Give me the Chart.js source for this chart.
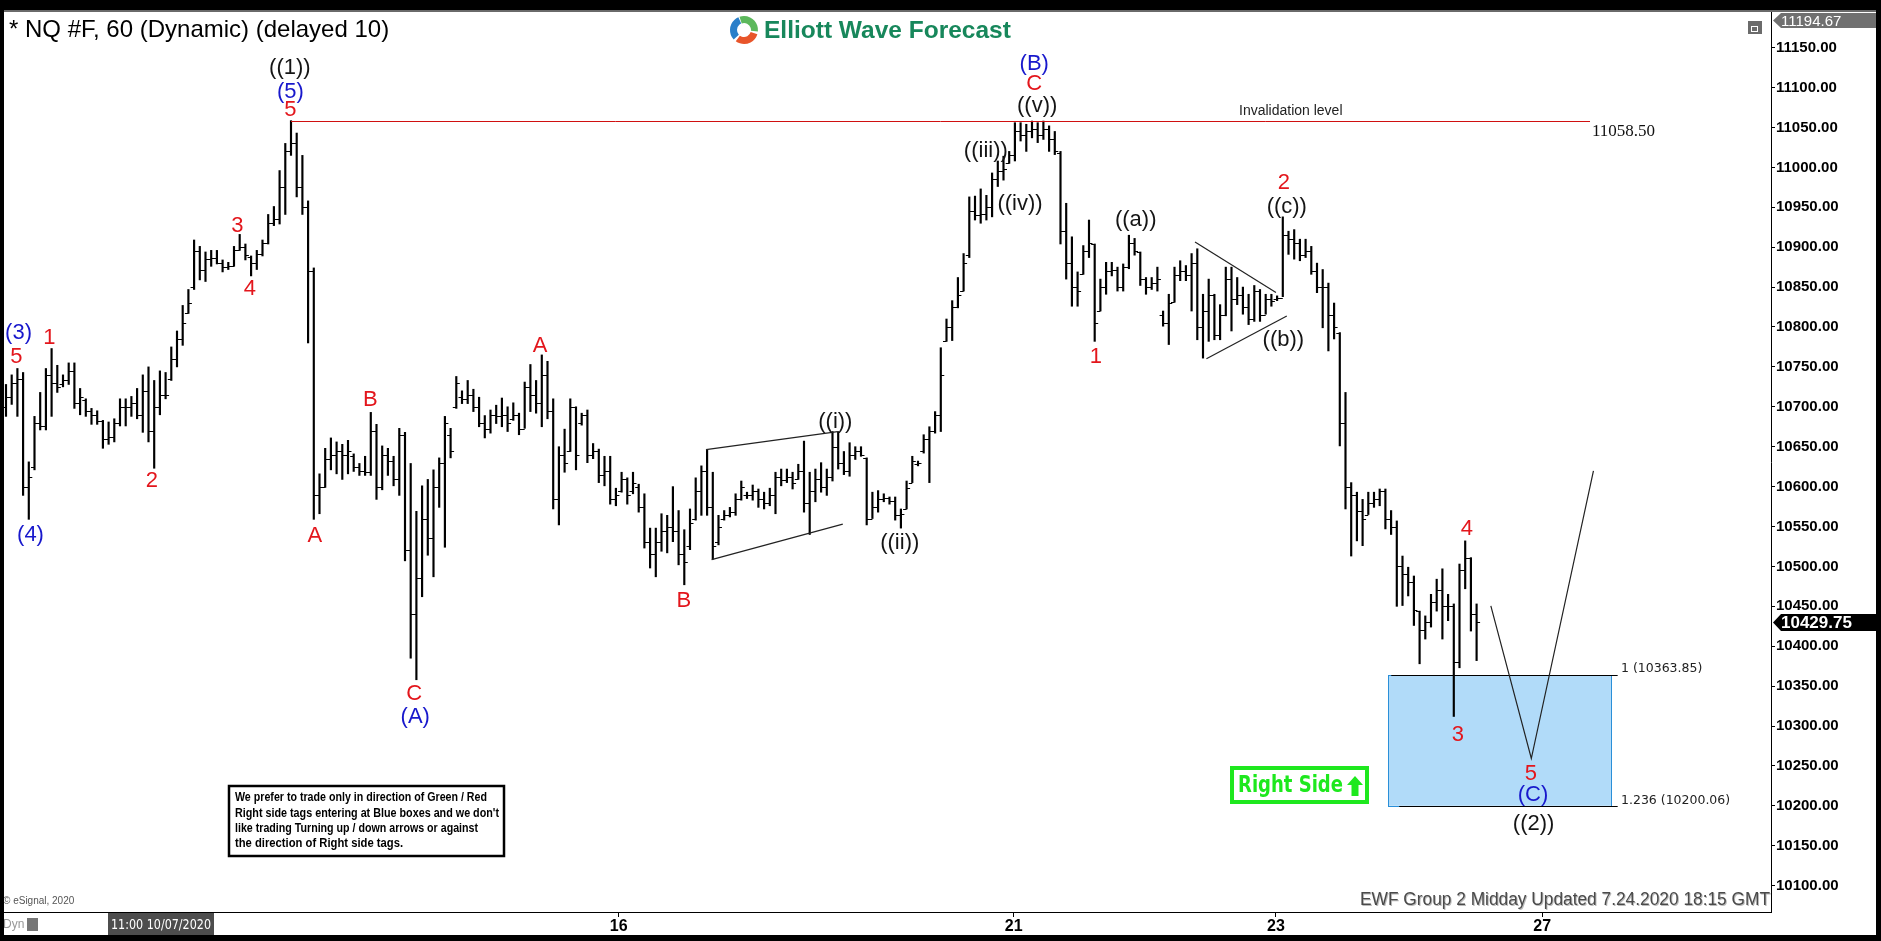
<!DOCTYPE html>
<html>
<head>
<meta charset="utf-8">
<script src="https://cdn.jsdelivr.net/npm/chart.js@4.4.1/dist/chart.umd.min.js"></script>
<style>
  html, body { margin: 0; width: 1881px; height: 941px; background: #000; overflow: hidden; }
  #topline { position: absolute; left: 4px; top: 10px; width: 1872px; height: 2px; background: #6a6a6a; }
  #panel { position: absolute; left: 4px; top: 12px; width: 1872px; height: 923px; background: #fff; }
  canvas { display: block; }
</style>
</head>
<body>
<div id="topline"></div>
<div id="panel"><canvas id="chart" width="1872" height="923"></canvas></div>
<script>
// NQ #F hourly bars, 10-24 July 2020
const opens = [
  10700,10712,10730,10735,10600,10625,10680,10676,10740,10730,
  10728,10733,10745,10705,10708,10695,10690,10682,10660,10662,
  10680,10700,10700,10705,10690,10720,10670,10700,10715,10735,
  10760,10785,10817,10850,10895,10872,10885,10887,10880,10875,
  10876,10896,10900,10888,10880,10892,10905,10930,10935,10975,
  11020,11030,10975,10950,10870,10590,10600,10635,10640,10645,
  10640,10638,10625,10620,10618,10670,10600,10640,10632,10610,
  10665,10520,10440,10485,10560,10535,10600,10630,10665,10700,
  10712,10710,10715,10700,10680,10672,10690,10688,10690,10685,
  10690,10672,10725,10715,10705,10740,10695,10585,10640,10645,
  10700,10680,10690,10640,10645,10615,10620,10585,10595,10610,
  10595,10600,10575,10530,10515,10530,10545,10550,10545,10515,
  10525,10560,10595,10620,10575,10530,10560,10565,10568,10585,
  10590,10590,10595,10585,10580,10590,10612,10608,10612,10610,
  10620,10580,10595,10610,10600,10612,10650,10630,10620,10640,
  10645,10636,10560,10575,10585,10586,10582,10565,10572,10605,
  10628,10645,10660,10670,10690,10782,10800,10825,10845,10890,
  10945,10940,10942,10950,10985,10995,11005,11015,11045,11040,
  11045,11048,11040,11048,11035,11018,10920,10880,10850,10866,
  10895,10904,10820,10850,10870,10872,10850,10875,10905,10894,
  10860,10850,10855,10815,10805,10831,10865,10870,10865,10880,
  10800,10820,10840,10790,10815,10860,10835,10840,10825,10810,
  10845,10815,10835,10835,10836,10915,10910,10905,10890,10895,
  10870,10850,10850,10815,10793,10680,10600,10590,10570,10565,
  10580,10585,10595,10560,10550,10500,10490,10480,10444,10420,
  10430,10455,10470,10450,10450,10380,10495,10510,10440
];
const highs = [
  10728,10740,10748,10743,10631,10688,10718,10748,10773,10752,
  10740,10755,10755,10723,10710,10698,10695,10683,10681,10685,
  10710,10710,10713,10723,10740,10750,10733,10745,10743,10775,
  10795,10827,10847,10909,10901,10894,10896,10896,10884,10881,
  10901,10916,10904,10889,10896,10909,10941,10951,10996,11030,
  11058.5,11043,11015,10958,10874,10616,10648,10661,10656,10653,
  10658,10641,10629,10638,10693,10678,10651,10648,10638,10673,
  10668,10629,10569,10601,10609,10621,10636,10688,10673,10738,
  10720,10733,10722,10712,10689,10696,10702,10711,10700,10705,
  10692,10731,10753,10733,10765,10757,10710,10650,10672,10710,
  10700,10692,10696,10654,10647,10638,10638,10598,10618,10611,
  10618,10603,10591,10548,10548,10566,10564,10600,10570,10546,
  10572,10611,10626,10646,10618,10564,10570,10574,10591,10607,
  10593,10602,10597,10593,10598,10618,10622,10622,10618,10628,
  10657,10618,10622,10630,10622,10669,10669,10644,10655,10650,
  10650,10636,10593,10595,10591,10587,10587,10572,10607,10638,
  10632,10665,10675,10694,10774,10810,10833,10862,10892,10963,
  10964,10973,10965,10993,11008,11014,11020,11056,11056,11054,
  11058,11056,11058,11052,11045,11020,10955,10913,10869,10902,
  10934,10904,10860,10881,10881,10875,10879,10915,10911,10894,
  10862,10862,10875,10820,10841,10875,10883,10877,10892,10898,
  10841,10860,10841,10828,10875,10875,10862,10850,10841,10852,
  10847,10841,10841,10839,10938,10920,10922,10910,10910,10901,
  10880,10872,10855,10830,10793,10718,10605,10593,10584,10593,
  10593,10597,10597,10570,10557,10513,10499,10488,10444,10438,
  10465,10484,10497,10465,10453,10503,10532,10511,10453
];
const lows = [
  10688,10703,10688,10589,10559,10621,10671,10671,10688,10718,
  10725,10728,10698,10690,10688,10678,10678,10648,10653,10656,
  10676,10676,10688,10685,10668,10656,10623,10690,10710,10733,
  10750,10777,10817,10847,10859,10857,10876,10879,10869,10872,
  10876,10896,10884,10864,10872,10889,10904,10927,10929,10941,
  11015,10963,10941,10780,10559,10566,10599,10621,10616,10609,
  10616,10619,10614,10614,10614,10584,10596,10614,10601,10589,
  10507,10385,10358,10462,10514,10487,10574,10524,10636,10698,
  10704,10704,10694,10675,10661,10667,10679,10675,10669,10683,
  10665,10673,10694,10692,10675,10685,10572,10552,10618,10644,
  10621,10677,10630,10635,10605,10601,10578,10576,10593,10578,
  10591,10568,10523,10498,10487,10519,10517,10531,10502,10477,
  10521,10558,10564,10564,10509,10527,10558,10562,10564,10583,
  10585,10583,10574,10572,10576,10566,10601,10605,10597,10609,
  10568,10540,10581,10593,10589,10607,10622,10615,10613,10634,
  10638,10552,10560,10568,10581,10578,10558,10548,10572,10605,
  10626,10642,10605,10667,10669,10782,10783,10824,10845,10887,
  10934,10930,10934,10938,10976,10984,11005,11008,11033,11020,
  11037,11031,11035,11020,11016,10904,10860,10826,10826,10866,
  10887,10782,10820,10841,10864,10845,10845,10873,10890,10852,
  10841,10847,10845,10801,10778,10831,10858,10858,10820,10784,
  10761,10782,10784,10784,10814,10795,10828,10816,10803,10807,
  10807,10816,10826,10833,10838,10891,10885,10883,10887,10866,
  10843,10799,10770,10785,10651,10572,10513,10532,10526,10565,
  10574,10576,10547,10540,10450,10451,10463,10426,10378,10409,
  10424,10444,10409,10432,10312,10373,10472,10419,10382
];
const closes = [
  10712,10730,10735,10600,10612,10680,10676,10740,10730,10725,
  10733,10745,10705,10712,10695,10690,10682,10660,10662,10680,
  10700,10700,10705,10690,10720,10670,10700,10715,10715,10760,
  10785,10805,10830,10895,10872,10885,10887,10880,10875,10876,
  10896,10900,10890,10880,10892,10905,10930,10935,10975,11020,
  11030,10975,10950,10870,10590,10600,10635,10640,10645,10640,
  10645,10625,10620,10618,10670,10600,10640,10632,10610,10665,
  10520,10440,10485,10560,10535,10600,10630,10680,10645,10730,
  10710,10715,10700,10680,10672,10690,10688,10690,10680,10690,
  10672,10725,10715,10705,10740,10695,10585,10640,10630,10700,
  10640,10690,10640,10645,10615,10620,10585,10590,10610,10590,
  10605,10575,10530,10515,10530,10545,10550,10545,10515,10505,
  10555,10595,10620,10575,10525,10550,10565,10568,10585,10600,
  10590,10595,10585,10580,10590,10612,10608,10612,10605,10620,
  10580,10595,10610,10600,10612,10650,10630,10620,10640,10645,
  10640,10560,10575,10585,10586,10582,10565,10566,10598,10632,
  10630,10660,10670,10690,10740,10800,10825,10840,10880,10945,
  10940,10942,10950,10985,10995,10998,11015,11045,11040,11045,
  11048,11040,11048,11035,11020,10920,10880,10850,10845,10895,
  10905,10805,10850,10870,10872,10850,10875,10905,10895,10860,
  10850,10855,10860,10805,10830,10865,10870,10865,10880,10800,
  10820,10840,10790,10815,10860,10835,10840,10825,10810,10845,
  10815,10835,10832,10836,10915,10910,10905,10890,10895,10870,
  10850,10850,10815,10800,10680,10600,10590,10570,10560,10580,
  10585,10595,10560,10550,10500,10490,10480,10445,10420,10430,
  10455,10470,10450,10450,10380,10495,10510,10440,10429.75
];

// bar slots on the time axis (one per hourly bar)
const barNumbers = closes.map((_, i) => i + 1);

// time axis: bar slot of each date tick and its label
const dayTickSlots = [34, 108.5, 177.8, 223.8, 270.5];
const dayTickLabels = ['', '16', '21', '23', '27'];
const cursorTimeLabel = '11:00 10/07/2020';

// price axis
const priceTicks = [10100, 10150, 10200, 10250, 10300, 10350, 10400, 10450, 10500, 10550, 10600,
  10650, 10700, 10750, 10800, 10850, 10900, 10950, 11000, 11050, 11100, 11150];
const priceMin = 10067;
const priceMax = 11194.67;
const lastPrice = 10429.75;

// levels
const invalidationLevel = 11058.5;
const blueBoxTop = 10363.85;
const blueBoxBottom = 10200.06;

// wave labels: text, degree, bar slot, price
const waveLabels = [
  ['(3)', 'blue', 3.2, 10792], ['5', 'red', 2.8, 10763], ['1', 'red', 8.6, 10786],
  ['(4)', 'blue', 5.3, 10540], ['2', 'red', 26.6, 10607], ['3', 'red', 41.6, 10926],
  ['4', 'red', 43.8, 10848], ['((1))', 'black', 50.8, 11124], ['(5)', 'blue', 50.9, 11095],
  ['5', 'red', 50.9, 11072], ['A', 'red', 55.2, 10538], ['B', 'red', 64.9, 10709],
  ['C', 'red', 72.6, 10340], ['(A)', 'blue', 72.8, 10312], ['A', 'red', 94.7, 10776],
  ['B', 'red', 119.9, 10457], ['((i))', 'black', 146.5, 10681], ['((ii))', 'black', 157.8, 10529],
  ['(B)', 'blue', 181.4, 11129], ['C', 'red', 181.4, 11104], ['((v))', 'black', 181.9, 11077],
  ['((iii))', 'black', 172.9, 11021], ['((iv))', 'black', 178.9, 10954], ['((a))', 'black', 199.2, 10934],
  ['1', 'red', 192.2, 10762], ['2', 'red', 225.2, 10981], ['((c))', 'black', 225.7, 10950],
  ['((b))', 'black', 225.1, 10784], ['4', 'red', 257.3, 10547], ['3', 'red', 255.7, 10289],
  ['5', 'red', 268.5, 10240], ['(C)', 'blue', 268.9, 10214], ['((2))', 'black', 269.0, 10177]
];

// trend lines as [slot, price, slot, price]
const trendLines = [
  [123.8, 10646.3, 146.9, 10668.9],   // wedge top
  [124.8, 10508.6, 147.8, 10553.0],   // wedge bottom
  [209.6, 10906.4, 223.8, 10843.2],   // triangle top
  [211.6, 10760.2, 225.7, 10813.7]    // triangle bottom
];
// projected path (slot, price)
const projectionSlots = [261.5, 268.6, 279.5];
const projectionPrices = [10450.6, 10259.3, 10619.6];

const COLORS = { red: '#e3161c', blue: '#1818cc', black: '#151515' };
const OFF_X = 4, OFF_Y = 12; // panel offset inside the page

const overlay = {
    id: 'overlay',
    beforeDatasetsDraw(chart) {
        const { ctx, scales: { x, y } } = chart;
        // blue target box
        const x0 = x.getPixelForValue(243.5), x1 = x.getPixelForValue(282.7);
        const yt = y.getPixelForValue(blueBoxTop), yb = y.getPixelForValue(blueBoxBottom);
        ctx.save();
        ctx.fillStyle = '#b1dbf9';
        ctx.fillRect(x0, yt, x1 - x0, yb - yt);
        ctx.strokeStyle = '#2a8fd8';
        ctx.lineWidth = 1;
        ctx.strokeRect(Math.round(x0) + 0.5, Math.round(yt) + 0.5, Math.round(x1 - x0), Math.round(yb - yt));
        ctx.strokeStyle = '#000';
        ctx.beginPath();
        ctx.moveTo(x0 + 3, Math.round(yt) + 0.5); ctx.lineTo(x1 + 6, Math.round(yt) + 0.5);
        ctx.moveTo(x0 + 11, Math.round(yb) + 0.5); ctx.lineTo(x1 + 6, Math.round(yb) + 0.5);
        ctx.stroke();
        ctx.restore();
    },
    afterDatasetsDraw(chart) {
        const { ctx, scales: { x, y } } = chart;
        ctx.save();
        // open / close ticks
        ctx.strokeStyle = '#000';
        ctx.lineWidth = 1;
        ctx.beginPath();
        barNumbers.forEach((n, i) => {
            const px = x.getPixelForValue(n);
            const yo = Math.round(y.getPixelForValue(opens[i])) + 0.5;
            const yc = Math.round(y.getPixelForValue(closes[i])) + 0.5;
            ctx.moveTo(px - 3.5, yo); ctx.lineTo(px, yo);
            ctx.moveTo(px, yc); ctx.lineTo(px + 3.5, yc);
        });
        ctx.stroke();

        // invalidation line
        const yInv = Math.round(y.getPixelForValue(invalidationLevel)) + 0.5;
        ctx.strokeStyle = '#d01010';
        ctx.beginPath();
        ctx.moveTo(x.getPixelForValue(51), yInv);
        ctx.lineTo(x.getPixelForValue(278.9), yInv);
        ctx.stroke();

        // wedge / triangle
        ctx.strokeStyle = '#222';
        ctx.lineWidth = 1.2;
        trendLines.forEach(([s0, p0, s1, p1]) => {
            ctx.beginPath();
            ctx.moveTo(x.getPixelForValue(s0), y.getPixelForValue(p0));
            ctx.lineTo(x.getPixelForValue(s1), y.getPixelForValue(p1));
            ctx.stroke();
        });
        // projection
        ctx.beginPath();
        projectionSlots.forEach((s, i) => {
            const px = x.getPixelForValue(s), py = y.getPixelForValue(projectionPrices[i]);
            if (i === 0) ctx.moveTo(px, py); else ctx.lineTo(px, py);
        });
        ctx.stroke();

        // wave labels
        ctx.font = '22px Arial, "Liberation Sans", sans-serif';
        ctx.textAlign = 'center';
        ctx.textBaseline = 'middle';
        waveLabels.forEach(([t, deg, s, p]) => {
            ctx.fillStyle = COLORS[deg];
            ctx.fillText(t, x.getPixelForValue(s), y.getPixelForValue(p));
        });
        ctx.restore();
    },
    afterDraw(chart) {
        const { ctx, chartArea, scales: { y } } = chart;
        const P = (fx, fy) => [fx - OFF_X, fy - OFF_Y];
        ctx.save();
        ctx.textBaseline = 'middle';

        // title
        ctx.fillStyle = '#000';
        ctx.font = '24px Arial, "Liberation Sans", sans-serif';
        ctx.textAlign = 'left';
        ctx.fillText('* NQ #F, 60 (Dynamic) (delayed 10)', ...P(9, 30), 388);

        // logo
        const [lx, ly] = P(744, 30);
        const arcs = [['#5cb85c', -1.9, 0.1], ['#e8552a', 0.3, 2.2], ['#2a7fc9', 2.4, 4.3]];
        ctx.lineWidth = 7;
        arcs.forEach(([c, a0, a1]) => {
            ctx.strokeStyle = c;
            ctx.beginPath(); ctx.arc(lx, ly, 10.5, a0, a1); ctx.stroke();
        });
        ctx.fillStyle = '#17875b';
        ctx.font = 'bold 24.5px Arial, "Liberation Sans", sans-serif';
        ctx.fillText('Elliott Wave Forecast', ...P(764, 31), 248);

        // small window icon
        ctx.fillStyle = '#6b6b6b';
        ctx.fillRect(...P(1748, 21), 14, 13);
        ctx.strokeStyle = '#fff'; ctx.lineWidth = 1;
        ctx.strokeRect(...P(1751.5, 26.5), 6, 5);

        // invalidation text
        ctx.fillStyle = '#222';
        ctx.font = '14px Arial, "Liberation Sans", sans-serif';
        ctx.fillText('Invalidation level', ...P(1239, 111));
        ctx.fillStyle = '#111';
        ctx.font = '17px "Liberation Serif", "Times New Roman", serif';
        ctx.fillText('11058.50', ...P(1592, 132));

        // fib labels
        ctx.font = '12.5px "DejaVu Sans", Tahoma, sans-serif';
        ctx.fillStyle = '#222';
        ctx.fillText('1 (10363.85)', ...P(1621, 669));
        ctx.fillText('1.236 (10200.06)', ...P(1621, 801));

        // Right Side tag
        ctx.strokeStyle = '#1ee81e';
        ctx.lineWidth = 4;
        ctx.strokeRect(...P(1232, 768), 135, 34);
        ctx.fillStyle = '#1ee81e';
        ctx.font = 'bold 23px "Liberation Sans Narrow", "DejaVu Sans Condensed", Arial, sans-serif';
        ctx.fillText('Right Side', ...P(1238, 786), 105);
        const [ax, ay] = P(1355, 786);
        ctx.beginPath();
        ctx.moveTo(ax, ay - 10); ctx.lineTo(ax + 8, ay - 1); ctx.lineTo(ax + 3.5, ay - 1);
        ctx.lineTo(ax + 3.5, ay + 10); ctx.lineTo(ax - 3.5, ay + 10); ctx.lineTo(ax - 3.5, ay - 1);
        ctx.lineTo(ax - 8, ay - 1); ctx.closePath(); ctx.fill();

        // note box
        ctx.fillStyle = '#fff';
        ctx.fillRect(...P(229, 786), 275, 70);
        ctx.strokeStyle = '#000'; ctx.lineWidth = 2.5;
        ctx.strokeRect(...P(229, 786), 275, 70);
        ctx.fillStyle = '#000';
        ctx.font = 'bold 12px Arial, "Liberation Sans", sans-serif';
        const note = ['We prefer to trade only in direction of Green / Red',
            "Right side tags entering at Blue boxes and we don't",
            'like trading Turning up / down arrows or against',
            'the direction of Right side tags.'];
        const noteW = [252, 264, 243, 168];
        note.forEach((t, i) => ctx.fillText(t, ...P(235, 798 + i * 15.3), noteW[i]));

        // footer texts
        ctx.fillStyle = '#555';
        ctx.font = '10px Arial, "Liberation Sans", sans-serif';
        ctx.fillText('\u00a9 eSignal, 2020', ...P(3, 901));
        ctx.textAlign = 'right';
        ctx.font = '18px Arial, "Liberation Sans", sans-serif';
        ctx.fillStyle = '#bbb';
        ctx.fillText('EWF Group 2 Midday Updated 7.24.2020 18:15 GMT', ...P(1771, 901), 410);
        ctx.fillStyle = '#4a4a4a';
        ctx.fillText('EWF Group 2 Midday Updated 7.24.2020 18:15 GMT', ...P(1770, 900), 410);

        // bottom-left status
        ctx.textAlign = 'left';
        ctx.fillStyle = '#999';
        ctx.font = '12px Arial, "Liberation Sans", sans-serif';
        ctx.fillText('Dyn', ...P(3, 925));
        ctx.fillStyle = '#777';
        ctx.fillRect(...P(27, 918), 11, 13);

        // cursor time label on the time axis
        ctx.fillStyle = '#4d4d4d';
        ctx.fillRect(...P(108, 913), 106, 22);
        ctx.fillStyle = '#fff';
        ctx.font = '14px "DejaVu Sans", Tahoma, sans-serif';
        ctx.fillText(cursorTimeLabel, ...P(111, 925), 100);

        // price tags on the price axis
        const tag = (yc, h, bg, fg, text, font) => {
            const x0 = chartArea.right + 2, x1 = chart.width;
            ctx.fillStyle = bg;
            ctx.beginPath();
            ctx.moveTo(x0, yc); ctx.lineTo(x0 + 8, yc - h / 2); ctx.lineTo(x1, yc - h / 2);
            ctx.lineTo(x1, yc + h / 2); ctx.lineTo(x0 + 8, yc + h / 2); ctx.closePath(); ctx.fill();
            ctx.fillStyle = fg; ctx.font = font; ctx.textAlign = 'left';
            ctx.fillText(text, x0 + 8, yc + 1);
        };
        tag(8.5, 15, '#707070', '#fff', priceMax.toFixed(2), '15px Arial, "Liberation Sans", sans-serif');
        tag(y.getPixelForValue(lastPrice), 17, '#000', '#fff', lastPrice.toFixed(2), 'bold 17px Arial, "Liberation Sans", sans-serif');
        ctx.restore();
    }
};

const ctx = document.getElementById('chart');
new Chart(ctx, {
    type: 'bar',
    data: {
        datasets: [{
            data: barNumbers.map((n, i) => ({ x: n, y: [lows[i], highs[i]] })),
            backgroundColor: '#000',
            borderWidth: 0,
            barThickness: 1.5,
            grouped: false
        }]
    },
    options: {
        responsive: false,
        animation: false,
        devicePixelRatio: 1,
        layout: { padding: 0 },
        plugins: { legend: { display: false }, tooltip: { enabled: false } },
        scales: {
            x: {
                type: 'linear',
                min: 0.65,
                max: 310.65,
                offset: false,
                grid: { drawOnChartArea: false, offset: false, color: '#000', tickLength: 5 },
                border: { color: '#000', width: 1 },
                afterBuildTicks: s => { s.ticks = dayTickSlots.map(v => ({ value: v })); },
                ticks: {
                    autoSkip: false, maxRotation: 0, padding: 0, color: '#000',
                    font: { family: 'Arial', size: 16, weight: 'bold' },
                    callback: (v, i) => dayTickLabels[i]
                },
                afterFit: s => { s.height = 23; s.paddingLeft = 0; s.paddingRight = 0; }
            },
            y: {
                position: 'right',
                min: priceMin,
                max: priceMax,
                grid: { drawOnChartArea: false, color: '#000', tickLength: 4 },
                border: { color: '#000', width: 1 },
                afterBuildTicks: s => { s.ticks = priceTicks.map(v => ({ value: v })); },
                ticks: {
                    padding: 1, color: '#000',
                    font: { family: 'Arial', size: 15, weight: 'bold' },
                    callback: v => Number(v).toFixed(2)
                },
                afterFit: s => { s.width = 105; s.paddingTop = 0; s.paddingBottom = 0; }
            }
        }
    },
    plugins: [overlay]
});
</script>
</body>
</html>
